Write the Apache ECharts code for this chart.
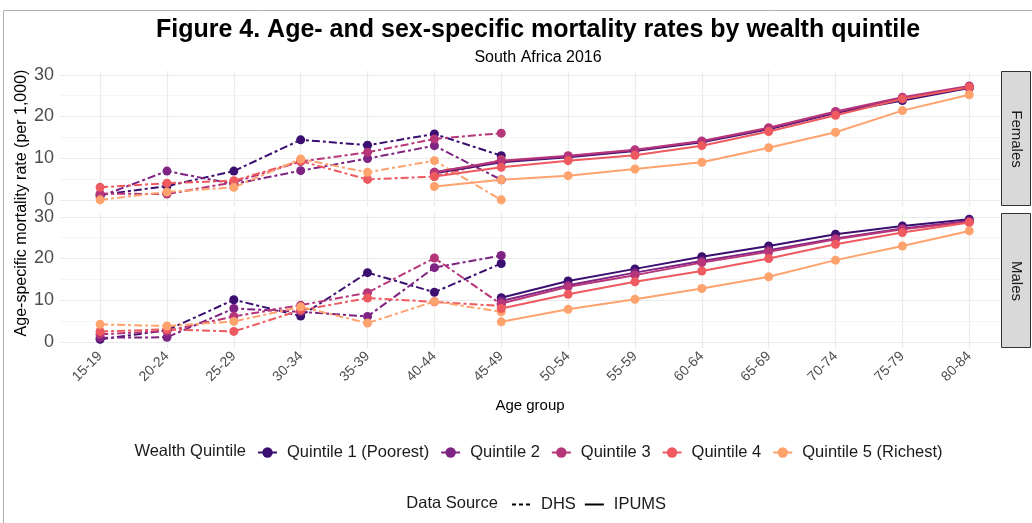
<!DOCTYPE html>
<html>
<head>
<meta charset="utf-8">
<script src="https://cdn.jsdelivr.net/npm/echarts@6/dist/echarts.min.js"></script>
<style>
  html, body { margin: 0; padding: 0; background: #fff; }
  #chart { width: 1032px; height: 523px; }
</style>
</head>
<body>
<div id="chart"></div>
<script>
// Age groups along the x axis
const ageGroups = ['15-19', '20-24', '25-29', '30-34', '35-39', '40-44', '45-49',
  '50-54', '55-59', '60-64', '65-69', '70-74', '75-79', '80-84'];

const quintiles = ['Quintile 1 (Poorest)', 'Quintile 2', 'Quintile 3', 'Quintile 4', 'Quintile 5 (Richest)'];
const quintileColors = ['#3B0F70', '#7E2482', '#B63679', '#EE5A5F', '#FEA26E'];

const yTicks = [0, 10, 20, 30];
const yMinorTicks = [5, 15, 25];

// DHS estimates start at 15-19 (index 0)
const femalesDHS = [
  [1.2, 3.3, 6.9, 14.4, 13.1, 15.8, 10.6],
  [0.8, 6.9, 3.8, 7.0, 9.9, 13.0, 4.8],
  [1.5, 1.4, 4.2, 9.2, 11.4, 14.6, 16.0],
  [3.0, 4.0, 4.6, 9.3, 4.9, 5.6, 9.6],
  [0.0, 1.9, 3.0, 9.8, 6.6, 9.4, 0.0]
];
const femalesDHSStart = 0;

// IPUMS estimates for females start at 40-44 (index 5)
const femalesIPUMS = [
  [6.4, 9.0, 10.2, 11.7, 13.8, 16.9, 20.8, 23.8, 26.8],
  [6.6, 9.2, 10.4, 11.9, 14.0, 17.1, 21.0, 24.4, 27.0],
  [6.6, 9.4, 10.6, 12.0, 14.1, 17.3, 21.2, 24.6, 27.3],
  [5.6, 7.8, 9.4, 10.7, 13.0, 16.4, 20.3, 24.2, 27.0],
  [3.2, 4.8, 5.8, 7.4, 9.0, 12.5, 16.2, 21.4, 25.2]
];
const femalesIPUMSStart = 5;

const malesDHS = [
  [0.6, 2.8, 10.1, 6.2, 16.6, 11.9, 18.8],
  [1.0, 1.1, 8.0, 7.2, 6.1, 17.8, 20.7],
  [1.8, 2.6, 6.1, 8.8, 11.8, 20.1, 9.0],
  [2.5, 3.0, 2.5, 7.6, 10.5, 9.6, 8.6],
  [4.2, 3.8, 4.9, 8.4, 4.5, 9.7, 7.2]
];
const malesDHSStart = 0;

// IPUMS estimates for males start at 45-49 (index 6)
const malesIPUMS = [
  [10.6, 14.6, 17.5, 20.4, 23.0, 25.8, 27.8, 29.4],
  [9.8, 13.6, 16.6, 19.4, 22.0, 24.8, 27.2, 29.0],
  [9.2, 13.2, 16.0, 19.0, 21.6, 24.6, 27.0, 28.8],
  [8.0, 11.4, 14.4, 17.0, 20.0, 23.4, 26.2, 28.6],
  [4.8, 7.8, 10.2, 12.8, 15.6, 19.6, 23.0, 26.6]
];
const malesIPUMSStart = 6;

const FONT = '"Liberation Sans", Arial, Helvetica, sans-serif';
const Y_MIN = -1.47, Y_MAX = 30.9;
const X_MIN = -0.6, X_MAX = 13.46;
const DHS_DASH = [8, 3, 3, 3];

const ageIdx = ageGroups.map((_, i) => i);

function pairs(values, start) {
  return values.map((v, i) => [start + i, v]);
}

function makeSeries(sets, start, source, panel) {
  return sets.map((vals, q) => ({
    type: 'line',
    name: quintiles[q],
    xAxisIndex: panel,
    yAxisIndex: panel * 2,
    data: pairs(vals, start),
    symbol: 'circle',
    symbolSize: 9,
    color: quintileColors[q],
    lineStyle: { width: 2, type: source === 'DHS' ? DHS_DASH : 'solid' },
    itemStyle: { color: quintileColors[q] },
    emphasis: { disabled: true },
    animation: false,
    z: 3
  }));
}

const series = [
  ...makeSeries(femalesDHS, femalesDHSStart, 'DHS', 0),
  ...makeSeries(femalesIPUMS, femalesIPUMSStart, 'IPUMS', 0),
  ...makeSeries(malesDHS, malesDHSStart, 'DHS', 1),
  ...makeSeries(malesIPUMS, malesIPUMSStart, 'IPUMS', 1),
  // line keys for the data-source legend
  { type: 'line', name: 'DHS', data: [], xAxisIndex: 0, yAxisIndex: 0, symbol: 'none', color: '#000',
    lineStyle: { width: 2, type: [4, 3] } },
  { type: 'line', name: 'IPUMS', data: [], xAxisIndex: 0, yAxisIndex: 0, symbol: 'none', color: '#000',
    lineStyle: { width: 2.5, type: 'solid' } }
];

const panelGrids = [
  { left: 60, right: 32, top: 71, height: 135 },
  { left: 60, right: 32, top: 213, height: 135 }
];

const xAxes = [0, 1].map(i => ({
  gridIndex: i,
  type: 'value',
  min: X_MIN,
  max: X_MAX,
  axisLine: { show: false },
  axisTick: { show: false, customValues: ageIdx },
  splitLine: { show: true, lineStyle: { color: '#EBEBEB', width: 1.2 } },
  axisLabel: {
    show: i === 1,
    customValues: ageIdx,
    formatter: v => ageGroups[Math.round(v)],
    rotate: 45,
    margin: 6,
    fontSize: 14,
    fontFamily: FONT,
    color: '#4D4D4D'
  }
}));

const yAxes = [];
[0, 1].forEach(i => {
  yAxes.push({
    gridIndex: i,
    type: 'value',
    min: Y_MIN,
    max: Y_MAX,
    axisLine: { show: false },
    axisTick: { show: false, customValues: yTicks },
    splitLine: { show: true, lineStyle: { color: '#EBEBEB', width: 1.2 } },
    axisLabel: { customValues: yTicks, fontSize: 18, fontFamily: FONT, color: '#4D4D4D', margin: 6 }
  });
  yAxes.push({
    gridIndex: i,
    type: 'value',
    min: Y_MIN,
    max: Y_MAX,
    axisLine: { show: false },
    axisTick: { show: false, customValues: yMinorTicks },
    splitLine: { show: true, lineStyle: { color: '#F3F3F3', width: 0.8 } },
    axisLabel: { show: false, customValues: yMinorTicks }
  });
});

const option = {
  backgroundColor: '#fff',
  animation: false,
  title: {
    text: 'Figure 4. Age- and sex-specific mortality rates by wealth quintile',
    subtext: 'South Africa 2016',
    left: 533,
    textAlign: 'center',
    top: 13,
    itemGap: 7,
    textStyle: { fontFamily: FONT, fontSize: 25, fontWeight: 'bold', color: '#000' },
    subtextStyle: { fontFamily: FONT, fontSize: 16, color: '#000' }
  },
  grid: panelGrids,
  xAxis: xAxes,
  yAxis: yAxes,
  legend: [
    {
      data: quintiles,
      left: 257,
      top: 444,
      padding: 0,
      itemWidth: 19,
      itemHeight: 13,
      itemGap: 11,
      selectedMode: false,
      lineStyle: { type: 'solid', width: 2 },
      textStyle: { fontFamily: FONT, fontSize: 16.5, color: '#1A1A1A', padding: [0, 0, 0, 5] }
    },
    {
      data: ['DHS', 'IPUMS'],
      left: 511,
      top: 496,
      padding: 0,
      itemWidth: 19,
      itemHeight: 13,
      itemGap: 8,
      selectedMode: false,
      itemStyle: { opacity: 0 },
      textStyle: { fontFamily: FONT, fontSize: 16.5, color: '#1A1A1A', padding: [0, 0, 0, 5] }
    }
  ],
  graphic: [
    // outer frame
    { type: 'rect', silent: true, z: -1, shape: { x: 3.5, y: 10.5, width: 1100, height: 700 },
      style: { fill: 'none', stroke: '#B0B0B0', lineWidth: 1 } },
    // facet strips
    { type: 'rect', silent: true, shape: { x: 1001.5, y: 71.5, width: 29, height: 134 },
      style: { fill: '#D9D9D9', stroke: '#333', lineWidth: 1 } },
    { type: 'rect', silent: true, shape: { x: 1001.5, y: 213.5, width: 29, height: 134 },
      style: { fill: '#D9D9D9', stroke: '#333', lineWidth: 1 } },
    { type: 'text', silent: true, x: 1016, y: 139, rotation: -Math.PI / 2,
      style: { text: 'Females', font: '15px ' + FONT, fill: '#1A1A1A', align: 'center', verticalAlign: 'middle' } },
    { type: 'text', silent: true, x: 1016, y: 281, rotation: -Math.PI / 2,
      style: { text: 'Males', font: '15px ' + FONT, fill: '#1A1A1A', align: 'center', verticalAlign: 'middle' } },
    // axis titles
    { type: 'text', silent: true, x: 22, y: 203, rotation: Math.PI / 2,
      style: { text: 'Age-specific mortality rate (per 1,000)', font: '16px ' + FONT, fill: '#000', align: 'center', verticalAlign: 'middle' } },
    { type: 'text', silent: true, x: 530, y: 406,
      style: { text: 'Age group', font: '15px ' + FONT, fill: '#000', align: 'center', verticalAlign: 'middle' } },
    // legend titles
    { type: 'text', silent: true, x: 246, y: 451,
      style: { text: 'Wealth Quintile', font: '16.5px ' + FONT, fill: '#1A1A1A', align: 'right', verticalAlign: 'middle' } },
    { type: 'text', silent: true, x: 498, y: 503,
      style: { text: 'Data Source', font: '16.5px ' + FONT, fill: '#1A1A1A', align: 'right', verticalAlign: 'middle' } }
  ],
  series: series
};

const chart = echarts.init(document.getElementById('chart'), null, { renderer: 'canvas' });
chart.setOption(option);
</script>
</body>
</html>
